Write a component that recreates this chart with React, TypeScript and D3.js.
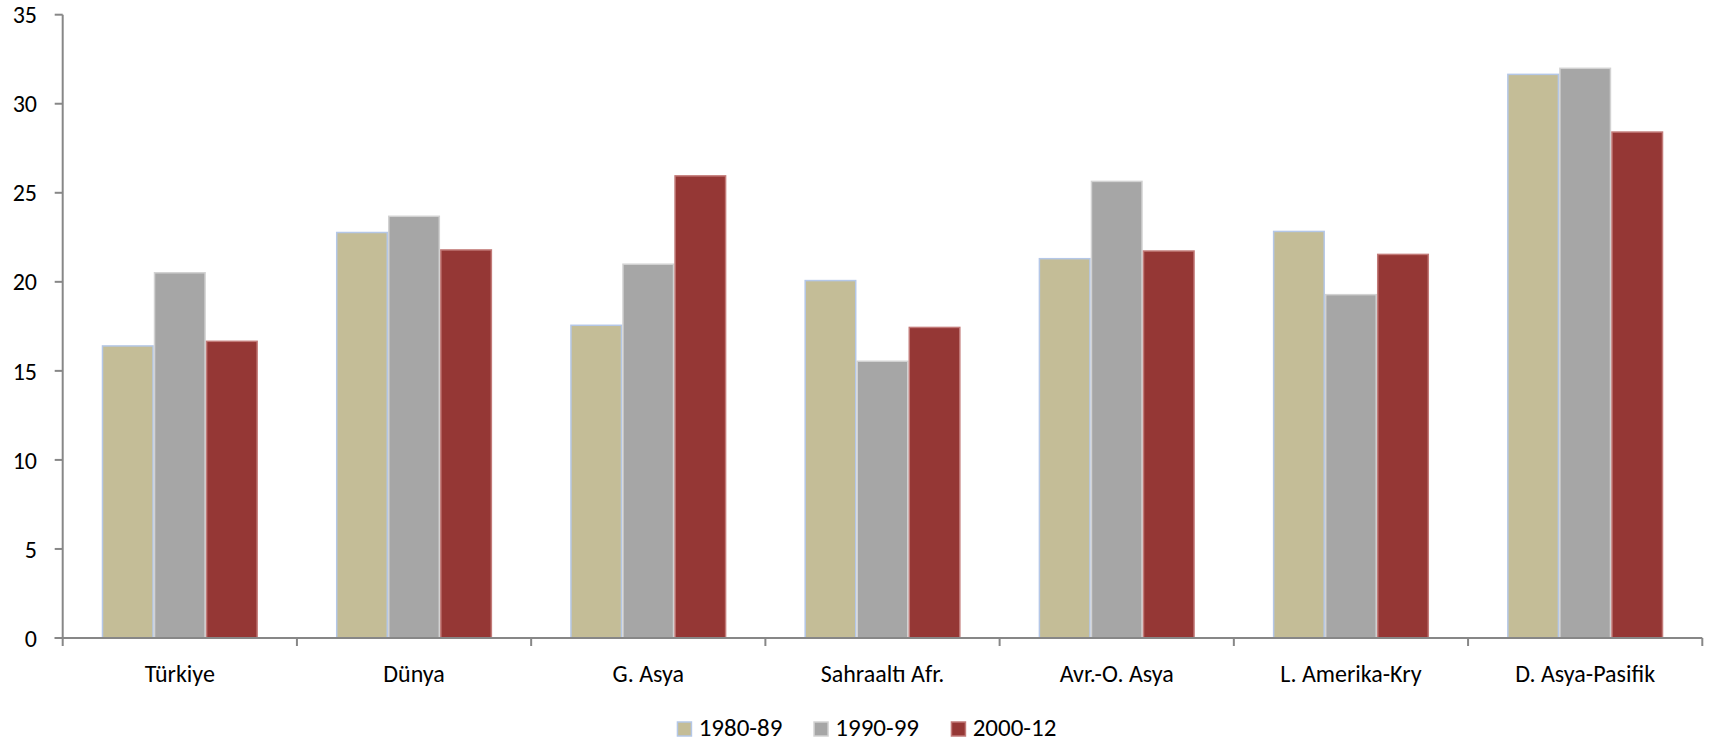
import React from "react";
import * as d3 from "d3";

const categories = ["Türkiye", "Dünya", "G. Asya", "Sahraaltı Afr.", "Avr.-O. Asya", "L. Amerika-Kry", "D. Asya-Pasifik"];
const seriesNames = ["1980-89", "1990-99", "2000-12"];
const s1980 = [16.4, 22.77, 17.56, 20.07, 21.3, 22.83, 31.65];
const s1990 = [20.51, 23.68, 20.99, 15.54, 25.64, 19.28, 31.99];
const s2000 = [16.66, 21.79, 25.95, 17.44, 21.73, 21.54, 28.41];
const yTicks = [0, 5, 10, 15, 20, 25, 30, 35];

const fills = ["#C4BD97", "#A6A6A6", "#953735"];
const strokes = ["#B4C7E7", "#D2D2D2", "#C27A78"];

const W = 1710;
const H = 742;
const FONT = "Carlito, Calibri, Lato, sans-serif";

export default function App() {
  const series = [s1980, s1990, s2000];
  const x0 = 62.7;
  const x1 = 1702.3;
  const yTop = 14.7;
  const yBot = 638;
  const x = d3.scaleBand<string>().domain(categories).range([x0, x1]).paddingInner(0).paddingOuter(0);
  const y = d3.scaleLinear().domain([0, 35]).range([yBot, yTop]);
  const bw = x.bandwidth();
  const barW = bw / (3 + 1.5);
  const boundaries = d3.range(categories.length + 1).map((i) => x0 + i * bw);
  const axisColor = "#878787";
  const legendX = [676.7, 813.3, 950.7];

  return (
    <svg width={W} height={H} style={{ position: "fixed", left: 0, top: 0, background: "#fff" }} fontFamily={FONT}>
      <rect x={0} y={0} width={W} height={H} fill="#fff" />
      {categories.map((c, ci) => (
        <g key={c}>
          {series.map((s, si) => {
            const bx = (x(c) as number) + barW * 0.75 + si * barW;
            return (
              <rect
                key={si}
                x={bx + 0.75}
                y={y(s[ci])}
                width={barW - 1.5}
                height={yBot - y(s[ci])}
                fill={fills[si]}
                stroke={strokes[si]}
                strokeWidth={1.5}
              />
            );
          })}
        </g>
      ))}
      {/* y axis */}
      <line x1={x0} x2={x0} y1={yTop} y2={yBot} stroke={axisColor} strokeWidth={2} />
      {yTicks.map((t) => (
        <g key={t}>
          <line x1={x0 - 8} x2={x0} y1={y(t)} y2={y(t)} stroke={axisColor} strokeWidth={2} />
          <text x={37} y={y(t)} dy="0.36em" textAnchor="end" fontSize={24} fill="#000">
            {t}
          </text>
        </g>
      ))}
      {/* x axis */}
      <line x1={x0 - 8} x2={x1} y1={yBot} y2={yBot} stroke={axisColor} strokeWidth={2} />
      {boundaries.map((b, i) => (
        <line key={i} x1={b} x2={b} y1={yBot} y2={yBot + 8} stroke={axisColor} strokeWidth={2} />
      ))}
      {categories.map((c) => (
        <text key={c} x={(x(c) as number) + bw / 2} y={682} textAnchor="middle" fontSize={24} fill="#000">
          {c}
        </text>
      ))}
      {/* legend */}
      {seriesNames.map((n, i) => (
        <g key={n}>
          <rect x={legendX[i] + 0.75} y={722} width={14} height={14} fill={fills[i]} stroke={strokes[i]} strokeWidth={1.5} />
          <text x={legendX[i] + 22} y={735.5} fontSize={25} fill="#000">
            {n}
          </text>
        </g>
      ))}
    </svg>
  );
}
